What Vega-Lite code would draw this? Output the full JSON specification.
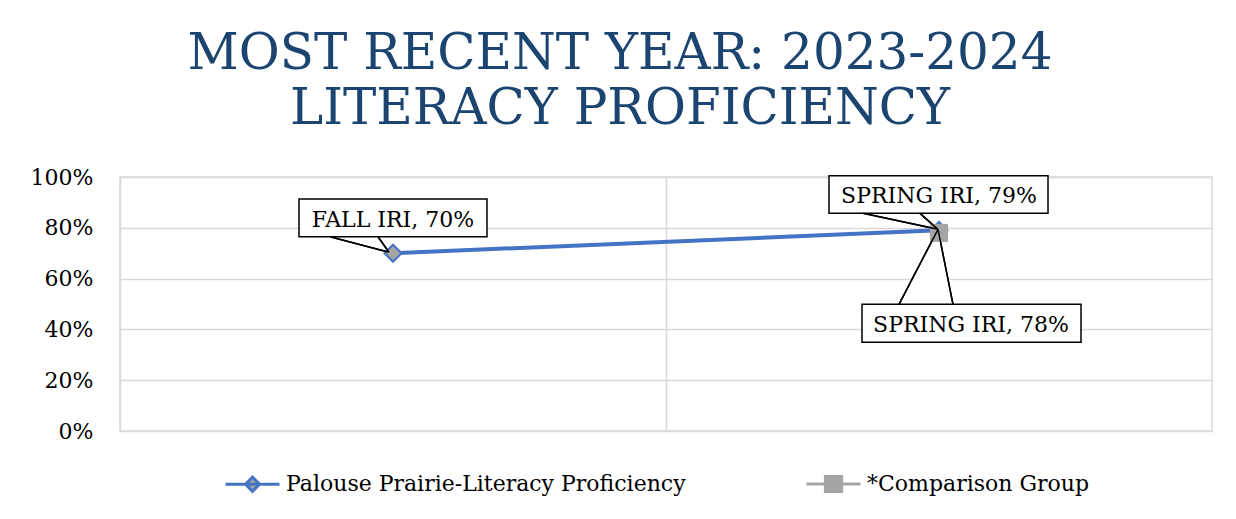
{
  "$schema": "https://vega.github.io/schema/vega-lite/v6.json",
  "width": 1092,
  "height": 254,
  "autosize": {"type": "none"},
  "padding": {"left": 120, "top": 177, "right": 24, "bottom": 88},
  "background": "white",
  "config": {
    "view": {"stroke": "#D9D9D9", "strokeWidth": 1.5},
    "font": "DejaVu Serif"
  },
  "title": {
    "text": ["MOST RECENT YEAR: 2023-2024", "LITERACY PROFICIENCY"],
    "font": "DejaVu Serif",
    "fontSize": 50,
    "fontWeight": "normal",
    "color": "#1B4470",
    "lineHeight": 55,
    "anchor": "middle",
    "dx": -46,
    "offset": 32
  },
  "data": {
    "values": [
      {"series": "Palouse Prairie-Literacy Proficiency", "term": "Fall IRI", "value": 0.70, "label": "FALL IRI, 70%"},
      {"series": "Palouse Prairie-Literacy Proficiency", "term": "Spring IRI", "value": 0.79, "label": "SPRING IRI, 79%"},
      {"series": "*Comparison Group", "term": "Spring IRI", "value": 0.78, "label": "SPRING IRI, 78%"}
    ]
  },
  "encoding": {
    "x": {
      "field": "term",
      "type": "nominal",
      "scale": {"type": "band", "paddingInner": 0, "paddingOuter": 0, "domain": ["Fall IRI", "Spring IRI"]},
      "axis": {"labels": false, "ticks": false, "domain": false, "title": null, "grid": true, "bandPosition": 0, "gridColor": "#D9D9D9", "gridWidth": 1.5}
    },
    "y": {
      "field": "value",
      "type": "quantitative",
      "scale": {"domain": [0, 1], "nice": false},
      "axis": {
        "values": [0, 0.2, 0.4, 0.6, 0.8, 1],
        "format": ".0%",
        "title": null,
        "domain": false,
        "ticks": false,
        "labelPadding": 27,
        "labelFont": "DejaVu Serif",
        "labelFontSize": 22,
        "labelColor": "black",
        "gridColor": "#D9D9D9",
        "gridWidth": 1.5
      }
    }
  },
  "layer": [
    {
      "transform": [{"filter": "datum.label === 'FALL IRI, 70%'"}],
      "mark": {"type": "point", "shape": "M-0.94,-0.542H0.94V-0.165H-0.94ZM-0.63,-0.165L-0.04,-0.01L-0.15,-0.165", "size": 40000, "fill": "white", "stroke": "black", "strokeWidth": 1.5, "opacity": 1}
    },
    {
      "transform": [{"filter": "datum.label === 'SPRING IRI, 79%'"}],
      "mark": {"type": "point", "shape": "M-1.10,-0.546H1.09V-0.17H-1.10ZM-0.76,-0.17L-0.01,-0.01L-0.19,-0.17", "size": 40000, "fill": "white", "stroke": "black", "strokeWidth": 1.5, "opacity": 1}
    },
    {
      "transform": [{"filter": "datum.label === 'SPRING IRI, 78%'"}],
      "mark": {"type": "point", "shape": "M-0.77,0.714H1.42V1.094H-0.77ZM-0.40,0.714L-0.01,-0.036L0.14,0.714", "size": 40000, "fill": "white", "stroke": "black", "strokeWidth": 1.5, "opacity": 1}
    },
    {
      "mark": {"type": "line", "strokeWidth": 4},
      "encoding": {
        "color": {
          "field": "series",
          "type": "nominal",
          "scale": {"domain": ["Palouse Prairie-Literacy Proficiency", "*Comparison Group"], "range": ["#4472C4", "#A5A5A5"]},
          "legend": {
            "orient": "none",
            "legendX": 104,
            "legendY": 278,
            "direction": "horizontal",
            "title": null,
            "padding": 0,
            "symbolSize": 2916,
            "symbolStrokeWidth": 3,
            "symbolType": "M-1,0H1",
            "labelFont": "DejaVu Serif",
            "labelFontSize": 22,
            "labelColor": "black",
            "labelOffset": 5,
            "labelLimit": 600,
            "columnPadding": 114,
            "encode": {
              "symbols": {
                "update": {
                  "shape": {"signal": "datum.value === '*Comparison Group' ? 'M-1,0H1M-0.3,-0.28H0.3V0.28H-0.3Z' : 'M-1,0H1M-0.26,0L0,-0.26L0.26,0L0,0.26Z'"},
                  "fill": {"value": "#A5A5A5"},
                  "strokeWidth": {"value": 3},
                  "opacity": {"value": 1}
                }
              }
            }
          }
        }
      }
    },
    {
      "transform": [{"filter": "datum.series === 'Palouse Prairie-Literacy Proficiency'"}],
      "mark": {"type": "point", "shape": "diamond", "fill": "#A5A5A5", "stroke": "#4472C4", "strokeWidth": 2, "size": 290, "opacity": 1}
    },
    {
      "transform": [{"filter": "datum.series === '*Comparison Group'"}],
      "mark": {"type": "point", "shape": "square", "fill": "#A5A5A5", "stroke": "#A5A5A5", "strokeWidth": 1, "size": 290, "opacity": 1}
    },
    {
      "transform": [{"filter": "datum.label === 'FALL IRI, 70%'"}],
      "mark": {"type": "point", "shape": "M-0.63,-0.165L-0.04,-0.01M-0.15,-0.165L-0.04,-0.01", "size": 40000, "fill": "transparent", "stroke": "black", "strokeWidth": 1.5, "opacity": 1}
    },
    {
      "transform": [{"filter": "datum.label === 'SPRING IRI, 79%'"}],
      "mark": {"type": "point", "shape": "M-0.76,-0.17L-0.01,-0.01M-0.19,-0.17L-0.01,-0.01", "size": 40000, "fill": "transparent", "stroke": "black", "strokeWidth": 1.5, "opacity": 1}
    },
    {
      "transform": [{"filter": "datum.label === 'SPRING IRI, 78%'"}],
      "mark": {"type": "point", "shape": "M-0.40,0.714L-0.01,-0.036M0.14,0.714L-0.01,-0.036", "size": 40000, "fill": "transparent", "stroke": "black", "strokeWidth": 1.5, "opacity": 1}
    },
    {
      "transform": [{"filter": "datum.label === 'FALL IRI, 70%'"}],
      "mark": {"type": "text", "dx": 0, "dy": -26.5, "baseline": "alphabetic", "align": "center", "font": "DejaVu Serif", "fontSize": 22, "color": "black"},
      "encoding": {"text": {"field": "label"}}
    },
    {
      "transform": [{"filter": "datum.label === 'SPRING IRI, 79%'"}],
      "mark": {"type": "text", "dx": 0, "dy": -27, "baseline": "alphabetic", "align": "center", "font": "DejaVu Serif", "fontSize": 22, "color": "black"},
      "encoding": {"text": {"field": "label"}}
    },
    {
      "transform": [{"filter": "datum.label === 'SPRING IRI, 78%'"}],
      "mark": {"type": "text", "dx": 32, "dy": 99.4, "baseline": "alphabetic", "align": "center", "font": "DejaVu Serif", "fontSize": 22, "color": "black"},
      "encoding": {"text": {"field": "label"}}
    }
  ]
}
